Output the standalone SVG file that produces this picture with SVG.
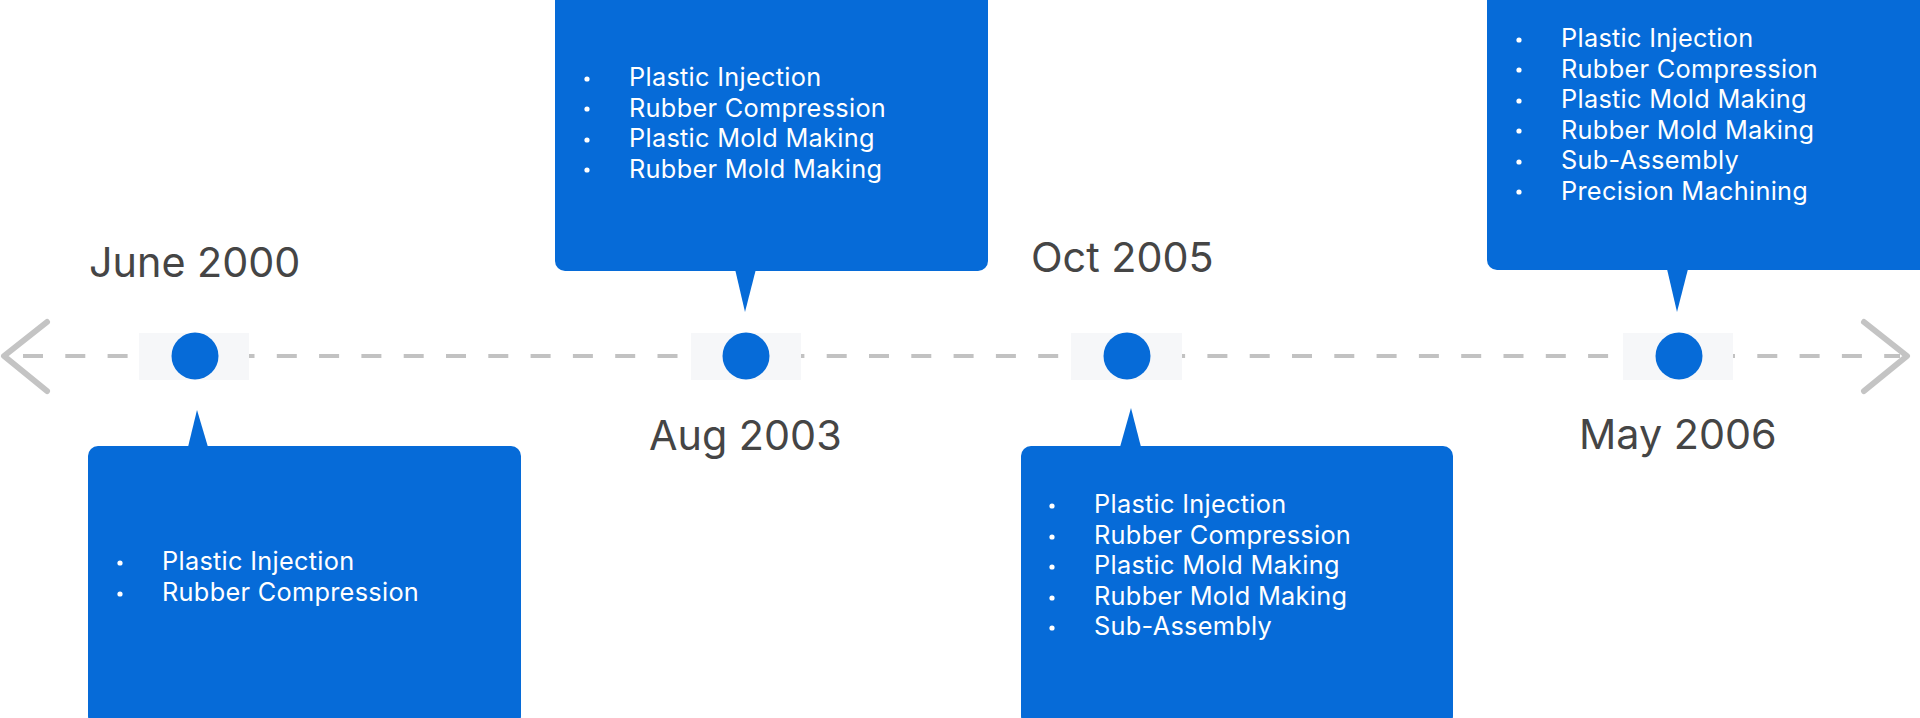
<svg xmlns="http://www.w3.org/2000/svg" width="1920" height="718" viewBox="0 0 1920 718">
  <style>
    .date { font-family: Inter, "Liberation Sans", sans-serif; font-size: 41.3px; fill: #454545; }
    .item { font-family: Inter, "Liberation Sans", sans-serif; font-size: 25.3px; letter-spacing: 0.3px; fill: #ffffff; }
    .card { fill: #066BD8; }
    .dot { fill: #066BD8; }
    .pad { fill: #F6F7F9; }
    .bullet { fill: #ffffff; }
    .chev { fill: none; stroke: #C4C4C4; stroke-width: 6; stroke-linecap: round; stroke-linejoin: round; }
  </style>
  <rect width="1920" height="718" fill="#ffffff"/>
  <g id="connectors">
    <line x1="23" y1="356" x2="1900" y2="356" stroke="#C2C2C2" stroke-width="4" stroke-dasharray="20 22.3"/>
    <polyline class="chev" points="47,322 4,356 47,391"/>
    <polyline class="chev" points="1864,322 1907,356 1864,391"/>
  </g>
  <g id="node-june2000">
    <rect class="pad" x="139" y="333" width="110" height="47"/>
    <circle class="dot" cx="195" cy="356" r="23.5"/>
    <text class="date" x="89" y="277">June 2000</text>
    <path class="card" d="M188,447 L197,410 L208,447 Z"/>
    <rect class="card" x="88" y="446" width="433" height="280" rx="10"/>
    <circle class="bullet" cx="120" cy="563" r="2.6"/>
    <circle class="bullet" cx="120" cy="594" r="2.6"/>
    <text class="item" x="162" y="570">Plastic Injection</text>
    <text class="item" x="162" y="601">Rubber Compression</text>
  </g>
  <g id="node-aug2003">
    <rect class="pad" x="691" y="333" width="110" height="47"/>
    <circle class="dot" cx="746" cy="356" r="23.5"/>
    <text class="date" x="649" y="450">Aug 2003</text>
    <path class="card" d="M735,269 L745,312 L756,269 Z"/>
    <rect class="card" x="555" y="-10" width="433" height="281" rx="10"/>
    <circle class="bullet" cx="587" cy="79" r="2.6"/>
    <circle class="bullet" cx="587" cy="109" r="2.6"/>
    <circle class="bullet" cx="587" cy="140" r="2.6"/>
    <circle class="bullet" cx="587" cy="170" r="2.6"/>
    <text class="item" x="629" y="86">Plastic Injection</text>
    <text class="item" x="629" y="116.5">Rubber Compression</text>
    <text class="item" x="629" y="147">Plastic Mold Making</text>
    <text class="item" x="629" y="177.5">Rubber Mold Making</text>
  </g>
  <g id="node-oct2005">
    <rect class="pad" x="1071" y="333" width="111" height="47"/>
    <circle class="dot" cx="1127" cy="356" r="23.5"/>
    <text class="date" x="1031" y="272">Oct 2005</text>
    <path class="card" d="M1120,447 L1131,408 L1141,447 Z"/>
    <rect class="card" x="1021" y="446" width="432" height="280" rx="10"/>
    <circle class="bullet" cx="1052" cy="506" r="2.6"/>
    <circle class="bullet" cx="1052" cy="537" r="2.6"/>
    <circle class="bullet" cx="1052" cy="567" r="2.6"/>
    <circle class="bullet" cx="1052" cy="598" r="2.6"/>
    <circle class="bullet" cx="1052" cy="628" r="2.6"/>
    <text class="item" x="1094" y="513">Plastic Injection</text>
    <text class="item" x="1094" y="543.5">Rubber Compression</text>
    <text class="item" x="1094" y="574">Plastic Mold Making</text>
    <text class="item" x="1094" y="604.5">Rubber Mold Making</text>
    <text class="item" x="1094" y="635">Sub-Assembly</text>
  </g>
  <g id="node-may2006">
    <rect class="pad" x="1623" y="333" width="110" height="47"/>
    <circle class="dot" cx="1679" cy="356" r="23.5"/>
    <text class="date" x="1579" y="449">May 2006</text>
    <path class="card" d="M1667,269 L1677,312 L1688,269 Z"/>
    <rect class="card" x="1487" y="-10" width="443" height="280" rx="10"/>
    <circle class="bullet" cx="1519" cy="40" r="2.6"/>
    <circle class="bullet" cx="1519" cy="70" r="2.6"/>
    <circle class="bullet" cx="1519" cy="101" r="2.6"/>
    <circle class="bullet" cx="1519" cy="131" r="2.6"/>
    <circle class="bullet" cx="1519" cy="162" r="2.6"/>
    <circle class="bullet" cx="1519" cy="192" r="2.6"/>
    <text class="item" x="1561" y="47">Plastic Injection</text>
    <text class="item" x="1561" y="77.5">Rubber Compression</text>
    <text class="item" x="1561" y="108">Plastic Mold Making</text>
    <text class="item" x="1561" y="138.5">Rubber Mold Making</text>
    <text class="item" x="1561" y="169">Sub-Assembly</text>
    <text class="item" x="1561" y="199.5">Precision Machining</text>
  </g>
</svg>
